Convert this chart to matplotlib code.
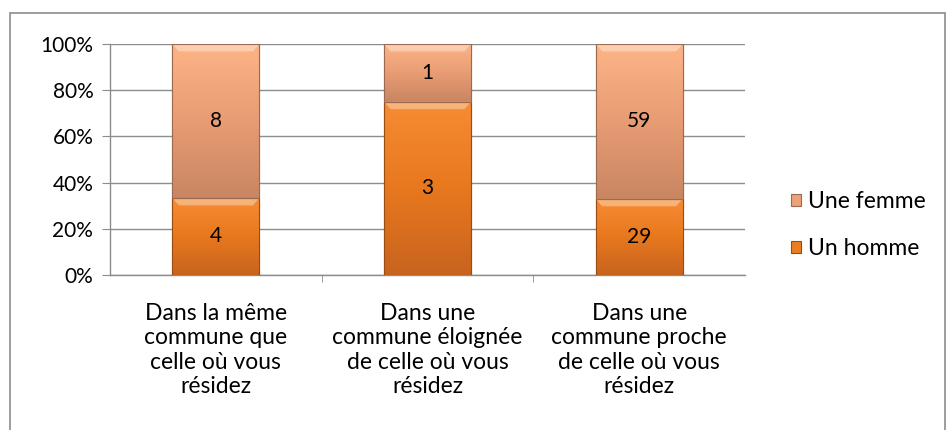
import numpy as np
import matplotlib.pyplot as plt
from matplotlib.colors import LinearSegmentedColormap
from matplotlib.patches import Rectangle
from matplotlib.ticker import PercentFormatter, FixedLocator

plt.rcParams['font.family'] = ['Lato', 'DejaVu Sans']

categories = ["Dans la même\ncommune que\ncelle où vous\nrésidez",
              "Dans une\ncommune éloignée\nde celle où vous\nrésidez",
              "Dans une\ncommune proche\nde celle où vous\nrésidez"]
hommes = [4, 3, 29]
femmes = [8, 1, 59]
yticks = [0, 20, 40, 60, 80, 100]

hommes = np.array(hommes, dtype=float)
femmes = np.array(femmes, dtype=float)
total = hommes + femmes
pct_h = hommes / total * 100
pct_f = femmes / total * 100

FS = 15      # numbers
FS_TXT = 16.5  # words

fig = plt.figure(figsize=(9.47, 4.30), dpi=100)
ax = fig.add_axes([110 / 947, 1 - 275 / 430, 635 / 947, 231 / 430])

# outer chart frame
fig.patches.append(Rectangle((10 / 947, -0.05), 935 / 947, 1 - 13 / 430 + 0.05,
                             transform=fig.transFigure, fill=False,
                             edgecolor='#8c8c8c', linewidth=1.2))

x = np.arange(len(categories))
w = 0.41

cmap_h = LinearSegmentedColormap.from_list('h', ['#c8641e', '#e8781e', '#f68c34'])
cmap_f = LinearSegmentedColormap.from_list('f', ['#c98662', '#e89c74', '#fcb486'])


def shaded_bars(bottom, height, cmap, edge, label):
    bars = ax.bar(x, height, w, bottom=bottom, color=cmap(0.6), edgecolor=edge,
                  linewidth=0.8, label=label, zorder=3)
    grad = np.linspace(0, 1, 64).reshape(-1, 1)
    for b in bars:
        bx, by = b.get_x(), b.get_y()
        bw, bh = b.get_width(), b.get_height()
        im = ax.imshow(grad, cmap=cmap, origin='lower', aspect='auto',
                       extent=[bx, bx + bw, by, by + bh], zorder=3.1,
                       interpolation='bicubic')
        im.set_clip_path(b)
        # light bevel along the top edge
        ax.fill([bx, bx + bw, bx + bw - 0.03, bx + 0.03],
                [by + bh, by + bh, by + bh - 3.2, by + bh - 3.2],
                color='white', alpha=0.35, lw=0, zorder=3.2)
        ax.bar(bx + bw / 2, bh, bw, bottom=by, fill=False, edgecolor=edge,
               linewidth=0.8, zorder=3.3)
    return bars


shaded_bars(0, pct_h, cmap_h, '#9a4d12', 'Un homme')
shaded_bars(pct_h, pct_f, cmap_f, '#9c6a50', 'Une femme')

for i in range(len(x)):
    ax.text(x[i], pct_h[i] / 2, f"{int(hommes[i])}", ha='center', va='center',
            fontsize=FS, zorder=5)
    ax.text(x[i], pct_h[i] + pct_f[i] / 2, f"{int(femmes[i])}", ha='center',
            va='center', fontsize=FS, zorder=5)

ax.set_xlim(-0.5, len(x) - 0.5)
ax.set_ylim(0, 100)
ax.yaxis.set_major_locator(FixedLocator(yticks))
ax.yaxis.set_major_formatter(PercentFormatter(decimals=0))
ax.grid(axis='y', color='#8c8c8c', linewidth=1, zorder=0)
ax.set_axisbelow(True)

ax.set_xticks(x)
ax.set_xticklabels(categories, fontsize=FS_TXT, linespacing=1.2)
ax.set_xticks([0.5, 1.5], minor=True)
ax.tick_params(axis='x', which='major', length=0, pad=20)
ax.tick_params(axis='x', which='minor', length=5, color='#8c8c8c')
ax.tick_params(axis='y', length=6, color='#8c8c8c', labelsize=FS, pad=6)

for s in ['top', 'right']:
    ax.spines[s].set_visible(False)
for s in ['left', 'bottom']:
    ax.spines[s].set_color('#8c8c8c')
    ax.spines[s].set_linewidth(1)

h, l = ax.get_legend_handles_labels()
order = [1, 0]
fig.legend([h[i] for i in order], [l[i] for i in order],
           loc='center left', bbox_to_anchor=(770 / 947, 1 - 225 / 430),
           frameon=False, fontsize=FS_TXT, labelspacing=1.15, handlelength=0.45,
           handleheight=0.45, handletextpad=0.3)

fig.savefig('out.png', dpi=100)
